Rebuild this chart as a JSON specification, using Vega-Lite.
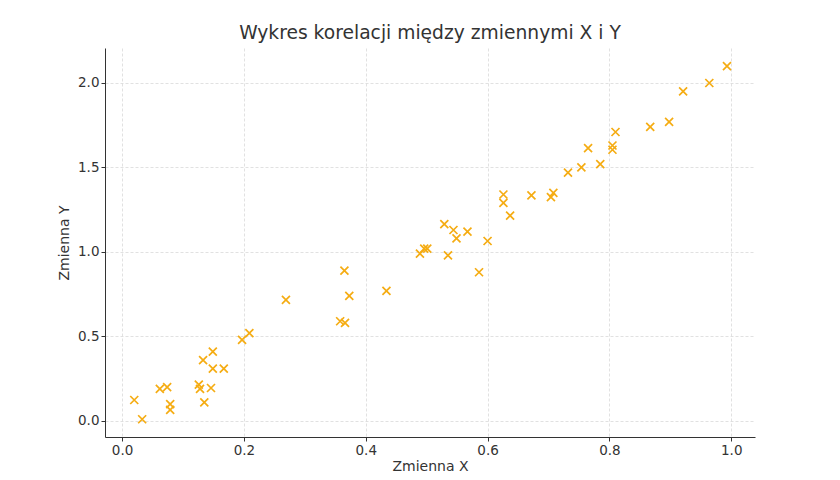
{
  "$schema": "https://vega.github.io/schema/vega-lite/v6.json",
  "width": 650,
  "height": 389,
  "autosize": {"type": "none"},
  "padding": {"left": 105, "top": 48, "right": 85, "bottom": 43},
  "background": "white",
  "title": {
    "text": "Wykres korelacji między zmiennymi X i Y",
    "font": "DejaVu Sans",
    "fontSize": 18.7,
    "fontWeight": "normal",
    "color": "#333333",
    "offset": 5,
    "anchor": "middle"
  },
  "config": {
    "view": {"stroke": null},
    "axis": {
      "labelFont": "DejaVu Sans",
      "titleFont": "DejaVu Sans",
      "labelFontSize": 13.5,
      "titleFontSize": 14,
      "titleFontWeight": "normal",
      "labelColor": "#333333",
      "titleColor": "#333333",
      "domainColor": "#333333",
      "tickColor": "#333333",
      "tickSize": 4,
      "gridColor": "#d9d9d9",
      "gridDash": [3, 2],
      "gridWidth": 0.8
    }
  },
  "data": {
    "values": [
      {"x": 0.020, "y": 0.124}, {"x": 0.033, "y": 0.010}, {"x": 0.062, "y": 0.190},
      {"x": 0.074, "y": 0.200}, {"x": 0.079, "y": 0.100}, {"x": 0.079, "y": 0.065},
      {"x": 0.126, "y": 0.215}, {"x": 0.128, "y": 0.190}, {"x": 0.133, "y": 0.360},
      {"x": 0.135, "y": 0.110}, {"x": 0.146, "y": 0.195}, {"x": 0.149, "y": 0.410},
      {"x": 0.149, "y": 0.310}, {"x": 0.167, "y": 0.310}, {"x": 0.197, "y": 0.480},
      {"x": 0.209, "y": 0.520}, {"x": 0.269, "y": 0.716}, {"x": 0.358, "y": 0.590},
      {"x": 0.366, "y": 0.580}, {"x": 0.365, "y": 0.890}, {"x": 0.373, "y": 0.740},
      {"x": 0.434, "y": 0.770}, {"x": 0.489, "y": 0.990}, {"x": 0.496, "y": 1.020},
      {"x": 0.501, "y": 1.020}, {"x": 0.529, "y": 1.165}, {"x": 0.535, "y": 0.980},
      {"x": 0.544, "y": 1.130}, {"x": 0.549, "y": 1.080}, {"x": 0.567, "y": 1.120},
      {"x": 0.586, "y": 0.880}, {"x": 0.600, "y": 1.065}, {"x": 0.626, "y": 1.340},
      {"x": 0.626, "y": 1.290}, {"x": 0.637, "y": 1.215}, {"x": 0.672, "y": 1.335},
      {"x": 0.704, "y": 1.325}, {"x": 0.708, "y": 1.350}, {"x": 0.732, "y": 1.470},
      {"x": 0.754, "y": 1.500}, {"x": 0.765, "y": 1.615}, {"x": 0.785, "y": 1.520},
      {"x": 0.805, "y": 1.605}, {"x": 0.805, "y": 1.630}, {"x": 0.810, "y": 1.710},
      {"x": 0.867, "y": 1.740}, {"x": 0.898, "y": 1.770}, {"x": 0.921, "y": 1.950},
      {"x": 0.964, "y": 2.000}, {"x": 0.993, "y": 2.100}
    ]
  },
  "mark": {
    "type": "point",
    "shape": "M-1,-1L1,1M-1,1L1,-1",
    "filled": false,
    "stroke": "#f5ac12",
    "strokeWidth": 1.7,
    "size": 64,
    "opacity": 1
  },
  "encoding": {
    "x": {
      "field": "x",
      "type": "quantitative",
      "scale": {"domain": [-0.028, 1.039], "nice": false, "zero": false},
      "axis": {"title": "Zmienna X", "values": [0, 0.2, 0.4, 0.6, 0.8, 1.0], "format": ".1f", "titlePadding": 3}
    },
    "y": {
      "field": "y",
      "type": "quantitative",
      "scale": {"domain": [-0.095, 2.207], "nice": false, "zero": false},
      "axis": {"title": "Zmienna Y", "values": [0, 0.5, 1.0, 1.5, 2.0], "format": ".1f", "titlePadding": 6}
    }
  }
}
